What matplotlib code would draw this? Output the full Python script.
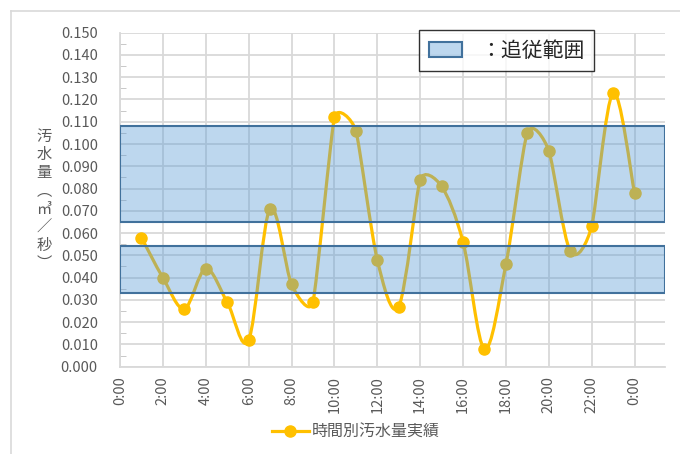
import numpy as np
import matplotlib
matplotlib.use('Agg')
import matplotlib.pyplot as plt
from matplotlib.path import Path
from matplotlib.patches import PathPatch, Patch
from matplotlib.lines import Line2D
from matplotlib.ticker import MultipleLocator

plt.rcParams['font.family'] = ['Noto Sans CJK JP', 'DejaVu Sans']

# data
hours = list(range(1, 25))
flow = [0.058, 0.040, 0.026, 0.044, 0.029, 0.012, 0.071, 0.037, 0.029, 0.112,
        0.106, 0.048, 0.027, 0.084, 0.081, 0.056, 0.008, 0.046, 0.105, 0.097,
        0.052, 0.063, 0.123, 0.078]
x_tick_pos = list(range(0, 25, 2))
x_tick_labels = ['0:00', '2:00', '4:00', '6:00', '8:00', '10:00', '12:00',
                 '14:00', '16:00', '18:00', '20:00', '22:00', '0:00']
bands = [(0.033, 0.054), (0.065, 0.108)]
series_name = '時間別汚水量実績'
band_name = '：追従範囲'

GOLD = '#FFC000'
TXT = '#595959'
GRID = '#D9D9D9'
BAND_FILL = (0.357, 0.608, 0.835, 0.4)
BAND_EDGE = '#41719C'

W, H = 680, 454
fig = plt.figure(figsize=(W / 100, H / 100), dpi=100)
ax = fig.add_axes([120 / W, 1 - 366.7 / H, 545 / W, 334 / H])
ax.set_xlim(0, 25.42)
ax.set_ylim(0, 0.150)

# grid / axes styling
ax.set_xticks(x_tick_pos)
ax.set_xticklabels(x_tick_labels, rotation=90, fontsize=10.5, color=TXT)
ax.set_yticks(np.arange(0, 0.1501, 0.01))
ax.set_yticklabels([f'{v:.3f}' for v in np.arange(0, 0.1501, 0.01)],
                   fontsize=10.5, color=TXT)
ax.yaxis.set_minor_locator(MultipleLocator(0.005))
ax.tick_params(axis='both', which='major', length=0)
ax.tick_params(axis='y', which='major', pad=16)
ax.tick_params(axis='x', which='major', pad=7)
ax.tick_params(axis='y', which='minor', direction='in', length=4, color='#BFBFBF')
ax.grid(True, which='major', color=GRID, linewidth=1.3)
ax.set_axisbelow(True)
for s in ['top', 'right']:
    ax.spines[s].set_visible(False)
for s in ['left', 'bottom']:
    ax.spines[s].set_color(GRID)
    ax.spines[s].set_linewidth(1.3)

# smoothed line like Excel (bezier, tangent limited by neighbour segment length)
pts = ax.transData.transform(np.column_stack([hours, flow]))
n = len(pts)
verts = [pts[0]]
codes = [Path.MOVETO]


def tangent(i):
    p_prev = pts[max(i - 1, 0)]
    p_next = pts[min(i + 1, n - 1)]
    d = p_next - p_prev
    L = np.hypot(*d) / 6
    segs = []
    if i > 0:
        segs.append(np.hypot(*(pts[i] - pts[i - 1])))
    if i < n - 1:
        segs.append(np.hypot(*(pts[i + 1] - pts[i])))
    L = min(L, min(segs) / 2)
    norm = np.hypot(*d)
    return d / norm * L if norm > 0 else d


for i in range(n - 1):
    c1 = pts[i] + tangent(i)
    c2 = pts[i + 1] - tangent(i + 1)
    verts += [c1, c2, pts[i + 1]]
    codes += [Path.CURVE4] * 3
verts = ax.transData.inverted().transform(np.array(verts))
ax.add_patch(PathPatch(Path(verts, codes), fill=False, edgecolor=GOLD,
                       linewidth=2.3, zorder=2, capstyle='round'))
ax.plot(hours, flow, 'o', color=GOLD, markersize=8, zorder=2.5)

# target bands drawn over the line
for lo, hi in bands:
    ax.axhspan(lo, hi, facecolor=BAND_FILL, edgecolor=BAND_EDGE,
               linewidth=1.5, zorder=3)

# band legend
band_handle = Patch(facecolor=BAND_FILL, edgecolor=BAND_EDGE, linewidth=1.5)
leg = fig.legend([band_handle], [band_name], loc='center',
                 bbox_to_anchor=(506.5 / W, 1 - 50.5 / H), fontsize=15,
                 frameon=True, fancybox=False, edgecolor='black',
                 handlelength=1.6, handleheight=0.72, handletextpad=0.85,
                 borderpad=0.45, labelcolor='#262626')
leg.get_frame().set_linewidth(1.0)

# series legend
line_handle = Line2D([], [], color=GOLD, linewidth=2.3, marker='o', markersize=8)
fig.legend([line_handle], [series_name], loc='center',
           bbox_to_anchor=(356 / W, 1 - 432 / H), fontsize=11.5, frameon=False,
           handlelength=2.3, handletextpad=0.2, labelcolor=TXT)

# y axis title, stacked vertically
fig.text(44 / W, 1 - 200 / H, '汚\n水\n量\n︵\n㎥\n／\n秒\n︶', ha='center',
         va='center', fontsize=11, color=TXT, linespacing=1.08)

# chart area border
fig.add_artist(Line2D([11 / W, 1], [1 - 11 / H, 1 - 11 / H], color=GRID, lw=1.2))
fig.add_artist(Line2D([11 / W, 11 / W], [0, 1 - 11 / H], color=GRID, lw=1.2))

fig.savefig('out.png', dpi=100)
